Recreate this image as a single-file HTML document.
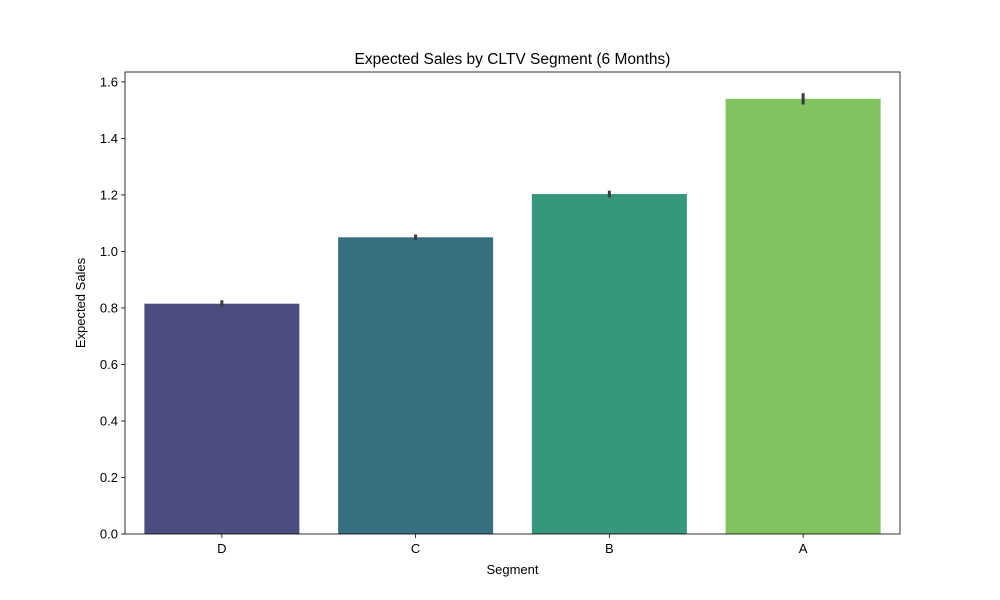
<!DOCTYPE html>
<html><head><meta charset="utf-8"><style>
body{margin:0;background:#fff;}
svg{display:block;font-family:"Liberation Sans","DejaVu Sans",sans-serif;}
</style></head><body>
<svg id="chart" width="1000" height="600">
<rect width="1000" height="600" fill="#fff"/>
</svg>
<script>
const categories = ["D","C","B","A"];
const values = [0.815, 1.05, 1.203, 1.54];
const errors = [0.012, 0.01, 0.012, 0.02];
const colors = ["#4b4d7e","#37717f","#35987c","#80c35f"];
const yTicks = [0,0.2,0.4,0.6,0.8,1.0,1.2,1.4,1.6];
const L=125,R=900,T=72,B=534,YMAX=1.635;
const svg=document.getElementById('chart');
const NS="http://www.w3.org/2000/svg";
function y(v){return B-(v/YMAX)*(B-T);}
const band=(R-L)/categories.length;
function xc(i){return L+band*(i+0.5);}
function mk(tag,attrs,text){const e=document.createElementNS(NS,tag);for(const k in attrs)e.setAttribute(k,attrs[k]);if(text!==undefined)e.textContent=text;svg.appendChild(e);return e;}
categories.forEach((c,i)=>{
  const w=band*0.8;
  const r=mk('rect',{x:xc(i)-w/2,y:y(values[i]),width:w,height:B-y(values[i]),fill:colors[i]});
  
  
  const e=mk('line',{x1:xc(i),x2:xc(i),y1:y(values[i]-errors[i]),y2:y(values[i]+errors[i]),stroke:'#3b3b3b','stroke-width':3});
  
  
  mk('line',{x1:xc(i),x2:xc(i),y1:B,y2:B+4,stroke:'#000','stroke-width':0.8});
  const t=mk('text',{x:xc(i),y:B+19,'text-anchor':'middle','font-size':13},c);
  
  
});
yTicks.forEach(v=>{
  mk('line',{x1:L-4,x2:L,y1:y(v),y2:y(v),stroke:'#000','stroke-width':0.8});
  const t=mk('text',{x:L-7,y:y(v)+4.5,'text-anchor':'end','font-size':13},v.toFixed(1));
  
  
});
const fr=mk('rect',{x:L,y:T,width:R-L,height:B-T,fill:'none',stroke:'#000','stroke-width':0.8});


const ti=mk('text',{x:(L+R)/2,y:64,'text-anchor':'middle','font-size':15.5},'Expected Sales by CLTV Segment (6 Months)');


const xl=mk('text',{x:(L+R)/2,y:574,'text-anchor':'middle','font-size':13},'Segment');


const yl=mk('text',{x:85,y:(T+B)/2,'text-anchor':'middle','font-size':13,transform:'rotate(-90 85 '+((T+B)/2)+')'},'Expected Sales');


</script>
</body></html>
